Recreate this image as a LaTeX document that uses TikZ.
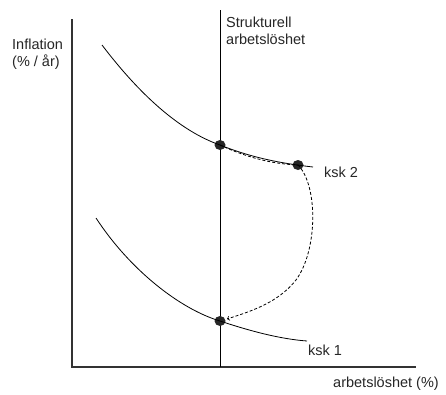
\documentclass[tikz,border=0pt]{standalone}
\usepackage{fontspec}
\setmainfont{Liberation Sans}
\usetikzlibrary{shapes.geometric}
\begin{document}
\begin{tikzpicture}[x=1pt,y=-1pt,
  lbl/.style={font=\fontsize{14.5}{17}\selectfont, text=black!85, inner sep=0pt},
  axis/.style={line width=1.1pt, draw=black!80},
  curve/.style={line width=0.8pt, draw=black},
  dot/.style={ellipse, fill=black!85, minimum width=11pt, minimum height=10pt, inner sep=0pt},
  dsh/.style={line width=0.8pt, dash pattern=on 3pt off 2pt}]
\useasboundingbox (0,0) rectangle (446,394);
% axes
\coordinate (o) at (72,367);
\coordinate (ytop) at (72,19);
\coordinate (xend) at (416,367);
\draw[axis] (ytop) -- (o) -- (xend);
% structural unemployment line
\coordinate (vtop) at (220,10);
\coordinate (vbot) at (220,367);
\draw[line width=0.8pt] (vtop) -- (vbot);
% dots
\node[dot] (a) at (220,145) {};
\node[dot] (b) at (298,165) {};
\node[dot] (c) at (220,321) {};
% curves
\coordinate (u0) at (102,45);
\coordinate (u1) at (313,167);
\draw[curve] (u0) .. controls (140,95) and (180,131) .. (a.center)
  .. controls (250,157) and (278,163) .. (u1);
\coordinate (l0) at (96,218);
\coordinate (l1) at (307,341);
\draw[curve] (l0) .. controls (130,270) and (180,309) .. (c.center)
  .. controls (250,331) and (280,339) .. (l1);
% dashed paths
\draw[dsh] (a.center) .. controls (250,159) and (275,164) .. (b.center);
\draw[dsh,->,>=to] (b.center) .. controls (318,185) and (318,250) .. (296,280)
  .. controls (277,304) and (248,312) .. (227,319);
% labels
\node[lbl, anchor=west] (k2) at (324,172) {ksk 2};
\node[lbl, anchor=west] (k1) at (308,350) {ksk 1};
\node[lbl, anchor=north west, align=left] (s) at (226,17) {Strukturell\\arbetslöshet};
\node[lbl, anchor=north west, align=left] (inf) at (12,39) {Inflation\\(\% / år)};
\node[lbl, anchor=west] (xl) at (333,384) {arbetslöshet (\%)};
\end{tikzpicture}
\end{document}
